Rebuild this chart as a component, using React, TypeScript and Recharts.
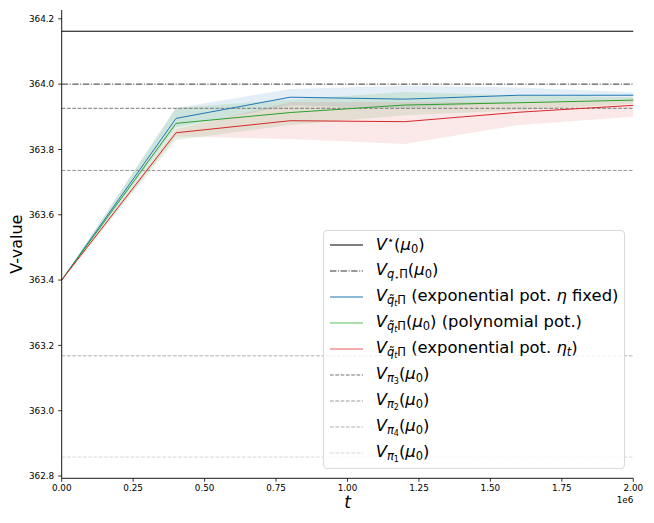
import React from 'react';
import { ComposedChart, Line, Area, XAxis, YAxis, ReferenceLine, Legend } from 'recharts';

// ---- data ----
const tValues = [0, 400000, 800000, 1200000, 1600000, 2000000];

const expFixedMean = [363.4, 363.895, 363.96, 363.954, 363.966, 363.966];
const expFixedLow = [363.4, 363.868, 363.935, 363.925, 363.945, 363.955];
const expFixedHigh = [363.4, 363.927, 363.985, 363.995, 363.99, 363.975];

const polyMean = [363.4, 363.88, 363.913, 363.936, 363.943, 363.951];
const polyLow = [363.4, 363.829, 363.875, 363.905, 363.92, 363.94];
const polyHigh = [363.4, 363.928, 363.952, 363.976, 363.965, 363.96];

const expEtaMean = [363.4, 363.851, 363.888, 363.885, 363.914, 363.935];
const expEtaLow = [363.4, 363.84, 363.832, 363.817, 363.875, 363.9];
const expEtaHigh = [363.4, 363.862, 363.945, 363.945, 363.945, 363.955];

const vStar = 364.162;
const vQStar = 364.0;
const vPi3 = 363.926;
const vPi2 = 363.7356;
const vPi4 = 363.168;
const vPi1 = 362.858;

const xTicks = [0, 250000, 500000, 750000, 1000000, 1250000, 1500000, 1750000, 2000000];
const yTicks = [362.8, 363.0, 363.2, 363.4, 363.6, 363.8, 364.0, 364.2];

const data = tValues.map((t, i) => ({
  t,
  blue: expFixedMean[i],
  blueBand: [expFixedLow[i], expFixedHigh[i]],
  green: polyMean[i],
  greenBand: [polyLow[i], polyHigh[i]],
  red: expEtaMean[i],
  redBand: [expEtaLow[i], expEtaHigh[i]],
}));

const BLUE = '#1f77b4';
const GREEN = '#2ca02c';
const RED = '#d62728';
const FONT = '"DejaVu Sans", sans-serif';

const refLines = [
  { y: vStar, stroke: '#000000', dash: undefined as string | undefined },
  { y: vQStar, stroke: '#333333', dash: '6.4 1.6 1 1.6' },
  { y: vPi3, stroke: '#777777', dash: '3.7 1.6' },
  { y: vPi2, stroke: '#999999', dash: '3.7 1.6' },
  { y: vPi4, stroke: '#b0b0b0', dash: '3.7 1.6' },
  { y: vPi1, stroke: '#d8d8d8', dash: '3.7 1.6' },
];

const I = ({ children }: { children: React.ReactNode }) => (
  <span style={{ fontStyle: 'italic' }}>{children}</span>
);
const Sub = ({ children }: { children: React.ReactNode }) => (
  <span style={{ fontSize: '0.7em', position: 'relative', top: '0.3em' }}>{children}</span>
);
const Mu0 = () => (
  <>
    (<I>μ</I>
    <Sub>0</Sub>)
  </>
);
const QtPi = () => (
  <Sub>
    <I>q̃</I>
    <span style={{ fontSize: '0.7em', position: 'relative', top: '0.25em' }}>
      <I>t</I>
    </span>
    Π
  </Sub>
);
const Pi = ({ n }: { n: string }) => (
  <Sub>
    <I>π</I>
    <span style={{ fontSize: '0.7em', position: 'relative', top: '0.25em' }}>{n}</span>
  </Sub>
);

const legendEntries: { stroke: string; dash?: string; label: React.ReactNode }[] = [
  {
    stroke: '#000000',
    label: (
      <>
        <I>V</I>
        <span style={{ fontSize: '0.7em', position: 'relative', top: '-0.45em' }}>⋆</span>
        <Mu0 />
      </>
    ),
  },
  {
    stroke: '#333333',
    dash: '6.4 1.6 1 1.6',
    label: (
      <>
        <I>V</I>
        <Sub>
          <I>q</I>
          <span style={{ fontSize: '0.7em', position: 'relative', top: '0.25em' }}>⋆</span>Π
        </Sub>
        <Mu0 />
      </>
    ),
  },
  {
    stroke: BLUE,
    label: (
      <>
        <I>V</I>
        <QtPi /> (exponential pot. <I>η</I> fixed)
      </>
    ),
  },
  {
    stroke: '#5cbf5c',
    label: (
      <>
        <I>V</I>
        <QtPi />
        <Mu0 /> (polynomial pot.)
      </>
    ),
  },
  {
    stroke: '#ee5a5a',
    label: (
      <>
        <I>V</I>
        <QtPi /> (exponential pot. <I>η</I>
        <Sub>
          <I>t</I>
        </Sub>
        )
      </>
    ),
  },
  { stroke: '#777777', dash: '3.7 1.6', label: (<><I>V</I><Pi n="3" /><Mu0 /></>) },
  { stroke: '#999999', dash: '3.7 1.6', label: (<><I>V</I><Pi n="2" /><Mu0 /></>) },
  { stroke: '#b0b0b0', dash: '3.7 1.6', label: (<><I>V</I><Pi n="4" /><Mu0 /></>) },
  { stroke: '#d8d8d8', dash: '3.7 1.6', label: (<><I>V</I><Pi n="1" /><Mu0 /></>) },
];

const LegendBox = () => (
  <div
    style={{
      boxSizing: 'border-box',
      width: 302,
      height: 239,
      border: '1px solid #d9d9d9',
      borderRadius: 4,
      background: 'rgba(255,255,255,0.8)',
      paddingTop: 1,
      fontFamily: FONT,
      fontSize: 16.4,
      color: '#000',
    }}
  >
    {legendEntries.map((e, i) => (
      <div key={i} style={{ height: 26.04, display: 'flex', alignItems: 'center', whiteSpace: 'nowrap' }}>
        <svg width={52} height={10} style={{ flex: 'none' }}>
          <line x1={6} x2={39} y1={5} y2={5} stroke={e.stroke} strokeWidth={1.1} strokeDasharray={e.dash} />
        </svg>
        <span style={{ lineHeight: '18px' }}>{e.label}</span>
      </div>
    ))}
  </div>
);

const YLabel = (props: any) => {
  const vb = props.viewBox || { x: 0, y: 0, width: 0, height: 0 };
  const cx = vb.x + 9;
  const cy = vb.y + vb.height / 2;
  return (
    <text
      x={cx}
      y={cy}
      transform={`rotate(-90 ${cx} ${cy})`}
      textAnchor="middle"
      dominantBaseline="central"
      fontFamily={FONT}
      fontSize={16}
      fill="#000"
    >
      V-value
    </text>
  );
};

const XLabel = (props: any) => {
  const vb = props.viewBox || { x: 0, y: 0, width: 0, height: 0 };
  return (
    <g>
      <text
        x={vb.x + vb.width / 2}
        y={vb.y + 30}
        textAnchor="middle"
        fontFamily={FONT}
        fontStyle="italic"
        fontSize={17}
        fill="#000"
      >
        t
      </text>
      <text x={vb.x + vb.width} y={vb.y + 25} textAnchor="end" fontFamily={FONT} fontSize={8.8} fill="#000">
        1e6
      </text>
    </g>
  );
};

export default function App() {
  const tickStyle = { fontSize: 8.8, fill: '#000', fontFamily: FONT };
  return (
    <ComposedChart
      width={638}
      height={515}
      data={data}
      margin={{ top: 2, right: 12.7, left: 0, bottom: 14.7 }}
    >
      <XAxis
        type="number"
        dataKey="t"
        domain={[0, 2000000]}
        ticks={xTicks}
        tickFormatter={(v: number) => (v / 1e6).toFixed(2)}
        tick={tickStyle}
        tickSize={3.5}
        tickMargin={3}
        height={30}
        axisLine={{ stroke: '#000', strokeWidth: 0.9 }}
        tickLine={{ stroke: '#000', strokeWidth: 0.8 }}
        label={<XLabel />}
      />
      <XAxis
        xAxisId="top"
        orientation="top"
        type="number"
        dataKey="t"
        domain={[0, 2000000]}
        height={0}
        tick={false}
        tickLine={false}
        axisLine={{ stroke: '#000', strokeWidth: 0.9 }}
      />
      <YAxis
        type="number"
        domain={[362.793, 364.227]}
        ticks={yTicks}
        allowDataOverflow
        tickFormatter={(v: number) => v.toFixed(1)}
        tick={tickStyle}
        tickSize={3.5}
        tickMargin={4}
        width={53.7}
        axisLine={{ stroke: '#000', strokeWidth: 0.9 }}
        tickLine={{ stroke: '#000', strokeWidth: 0.8 }}
        label={<YLabel />}
      />
      <YAxis
        yAxisId="right"
        orientation="right"
        type="number"
        domain={[362.793, 364.227]}
        width={0}
        tick={false}
        tickLine={false}
        axisLine={{ stroke: '#000', strokeWidth: 0.9 }}
      />
      {refLines.map((r, i) => (
        <ReferenceLine
          key={i}
          y={r.y}
          stroke={r.stroke}
          strokeWidth={1}
          strokeDasharray={r.dash}
          ifOverflow="extendDomain"
        />
      ))}
      <Area dataKey="blueBand" type="linear" stroke="none" fill={BLUE} fillOpacity={0.12} isAnimationActive={false} legendType="none" />
      <Area dataKey="greenBand" type="linear" stroke="none" fill={GREEN} fillOpacity={0.12} isAnimationActive={false} legendType="none" />
      <Area dataKey="redBand" type="linear" stroke="none" fill={RED} fillOpacity={0.1} isAnimationActive={false} legendType="none" />
      <Line dataKey="blue" type="linear" stroke={BLUE} strokeWidth={1} dot={false} isAnimationActive={false} />
      <Line dataKey="green" type="linear" stroke={GREEN} strokeWidth={1} dot={false} isAnimationActive={false} />
      <Line dataKey="red" type="linear" stroke={RED} strokeWidth={1} dot={false} isAnimationActive={false} />
      <Legend
        layout="vertical"
        align="center"
        verticalAlign="middle"
        content={<LegendBox />}
        wrapperStyle={{ left: 314.7, top: 222, width: 302, height: 239 }}
      />
    </ComposedChart>
  );
}
